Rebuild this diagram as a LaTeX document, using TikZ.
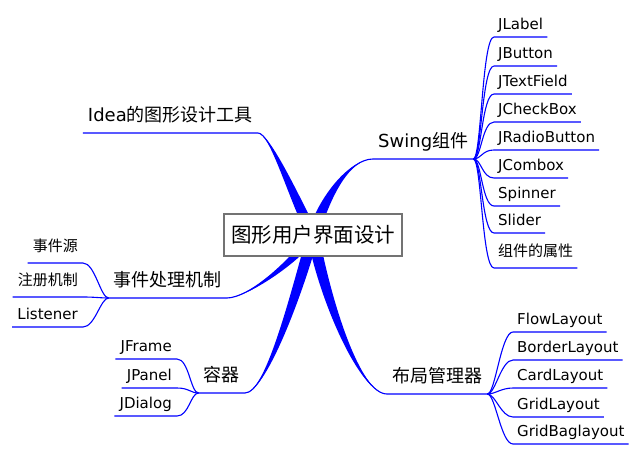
\documentclass[tikz,border=0pt]{standalone}
\usepackage{fontspec}
\setmainfont{DejaVu Sans}
\newfontfamily\cjk{Noto Sans CJK SC}
\usetikzlibrary{calc,backgrounds}

\newcommand{\rootfont}{\cjk\fontsize{20.5}{24}\selectfont}
\newcommand{\branchfont}{\fontsize{18}{22}\selectfont}
\newcommand{\leaffont}{\fontsize{15}{18}\selectfont}

% tapered main branch: control 1, control 2, joint, far end of underline
\newcommand{\mainbranch}[4]{%
  \fill[bough] ($(root.center)+(-6,0)$) .. controls ($(#1)+(-6,0)$) and (#2) .. (#3)
    .. controls (#2) and ($(#1)+(6,0)$) .. ($(root.center)+(6,0)$) -- cycle;
  \draw[twig] (root.center) .. controls (#1) and (#2) .. (#3) -- (#4);}
% thin edges to the leaves
\newcommand{\rightleaf}[2]{\draw[twig] (#1) .. controls ($(#1)+(8,0)$) and ($(#2.south west)+(-12,0)$) .. (#2.south west) -- (#2.south east);}
\newcommand{\leftleaf}[2]{\draw[twig] (#1) .. controls ($(#1)+(-8,0)$) and ($(#2.south east)+(12,0)$) .. (#2.south east) -- (#2.south west);}

\tikzset{
  rootbox/.style={draw=black!55, line width=1.2pt, fill=white, font=\rootfont,
    minimum width=178, minimum height=42, inner sep=0pt},
  branch/.style={font=\branchfont, inner xsep=5pt, inner ysep=0pt, text height=14pt, text depth=11.5pt},
  cjkbranch/.style={branch, font=\branchfont\cjk},
  leaf/.style={font=\leaffont, inner xsep=4pt, inner ysep=0pt, text height=11pt, text depth=7pt},
  cjkleaf/.style={leaf, font=\leaffont\cjk, text depth=11pt},
  twig/.style={draw=blue, line width=1.1pt},
  bough/.style={fill=blue},
}

\begin{document}
\begin{tikzpicture}[x=1pt,y=-1pt]
        \useasboundingbox (0,0) rectangle (637,455);

        % Root
        \node[rootbox] (root) at (313,235) {图形用户界面设计};

        % Branches
        \node[branch, anchor=south east] (idea) at (258,133) {Idea{\cjk 的图形设计工具}};
        \node[branch, anchor=south west] (swing) at (373,159) {Swing{\cjk 组件}};
        \node[cjkbranch, anchor=south east] (event) at (227,298) {事件处理机制};
        \node[cjkbranch, anchor=south east] (container) at (245,393) {容器};
        \node[cjkbranch, anchor=south west] (layout) at (387,394) {布局管理器};

        % Swing components
        \node[leaf, anchor=south west] (jlabel) at (494,37) {JLabel};
        \node[leaf, anchor=south west] (jbutton) at (494,66) {JButton};
        \node[leaf, anchor=south west] (jtextfield) at (494,94) {JTextField};
        \node[leaf, anchor=south west] (jcheckbox) at (494,122) {JCheckBox};
        \node[leaf, anchor=south west] (jradio) at (494,150) {JRadioButton};
        \node[leaf, anchor=south west] (jcombox) at (494,178) {JCombox};
        \node[leaf, anchor=south west] (spinner) at (494,206) {Spinner};
        \node[leaf, anchor=south west] (slider) at (494,233) {Slider};
        \node[cjkleaf, anchor=south west] (attr) at (494,268) {组件的属性};

        % Layouts
        \node[leaf, anchor=south west] (flow) at (513,332) {FlowLayout};
        \node[leaf, anchor=south west] (border) at (513,360) {BorderLayout};
        \node[leaf, anchor=south west] (card) at (513,388) {CardLayout};
        \node[leaf, anchor=south west] (grid) at (513,417) {GridLayout};
        \node[leaf, anchor=south west] (gridbag) at (513,444) {GridBaglayout};

        % Events
        \node[cjkleaf, anchor=south east, inner xsep=5pt] (source) at (83,263) {事件源};
        \node[cjkleaf, anchor=south east, inner xsep=5pt] (register) at (83,297) {注册机制};
        \node[leaf, anchor=south east, inner xsep=5pt] (listener) at (83,327) {Listener};

        % Containers
        \node[leaf, anchor=south east, inner xsep=5pt] (jframe) at (177,359) {JFrame};
        \node[leaf, anchor=south east, inner xsep=5pt] (jpanel) at (177,388) {JPanel};
        \node[leaf, anchor=south east, inner xsep=5pt] (jdialog) at (177,416) {JDialog};

        \begin{scope}[on background layer]
            \fill[white] (0,0) rectangle (637,455);
            \mainbranch{295,200}{270,133}{idea.south east}{idea.south west}
            \mainbranch{325,195}{350,159}{swing.south west}{swing.south east}
            \mainbranch{295,262}{247,298}{event.south east}{event.south west}
            \mainbranch{295,300}{265,393}{container.south east}{container.south west}
            \mainbranch{325,300}{360,394}{layout.south west}{layout.south east}

            \rightleaf{swing.south east}{jlabel}
            \rightleaf{swing.south east}{jbutton}
            \rightleaf{swing.south east}{jtextfield}
            \rightleaf{swing.south east}{jcheckbox}
            \rightleaf{swing.south east}{jradio}
            \rightleaf{swing.south east}{jcombox}
            \rightleaf{swing.south east}{spinner}
            \rightleaf{swing.south east}{slider}
            \rightleaf{swing.south east}{attr}

            \rightleaf{layout.south east}{flow}
            \rightleaf{layout.south east}{border}
            \rightleaf{layout.south east}{card}
            \rightleaf{layout.south east}{grid}
            \rightleaf{layout.south east}{gridbag}

            \leftleaf{event.south west}{source}
            \leftleaf{event.south west}{register}
            \leftleaf{event.south west}{listener}

            \leftleaf{container.south west}{jframe}
            \leftleaf{container.south west}{jpanel}
            \leftleaf{container.south west}{jdialog}
        \end{scope}
\end{tikzpicture}
\end{document}
